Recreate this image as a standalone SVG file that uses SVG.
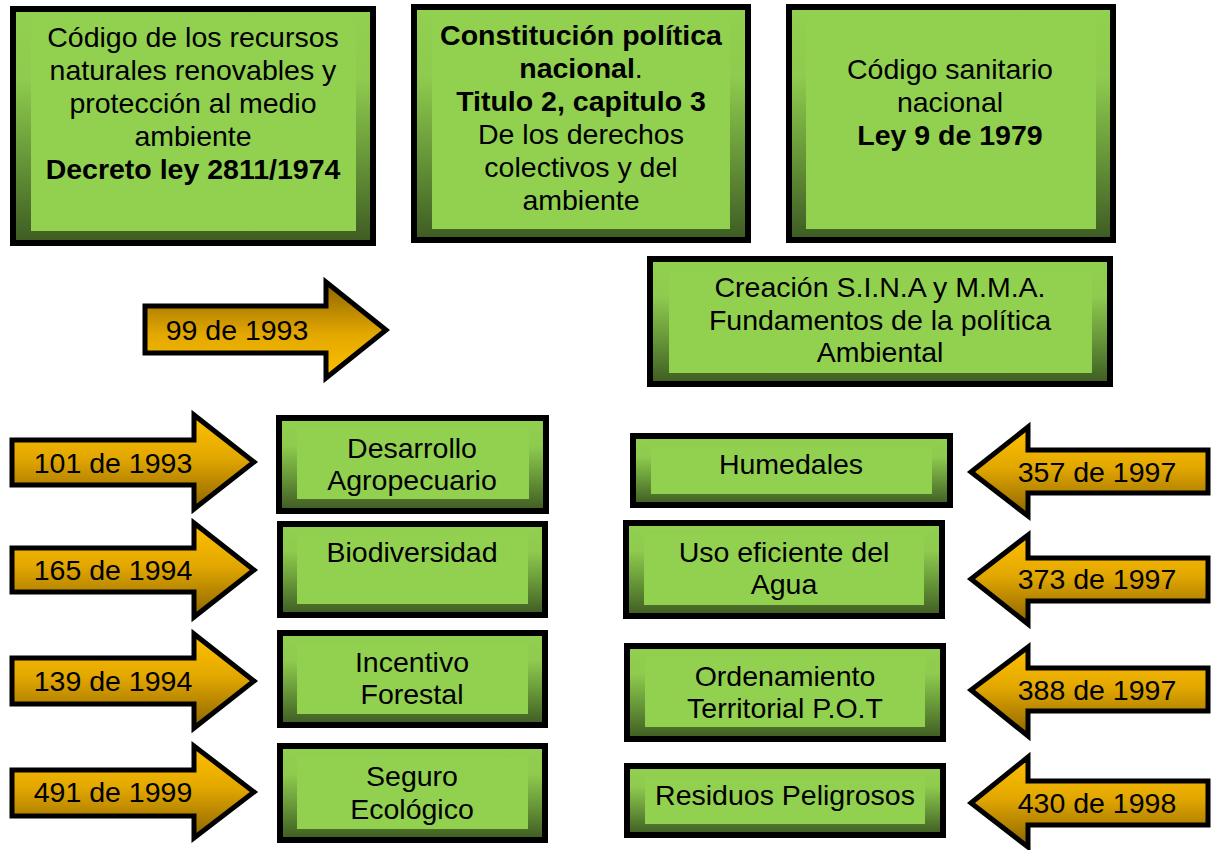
<svg xmlns="http://www.w3.org/2000/svg" width="1221" height="850" viewBox="0 0 1221 850">
<defs>
<linearGradient id="gFrame" x1="0" y1="0" x2="0" y2="1">
<stop offset="0" stop-color="#92d050"/>
<stop offset="0.3" stop-color="#8ecb4e"/>
<stop offset="0.65" stop-color="#669538"/>
<stop offset="1" stop-color="#3e5b22"/>
</linearGradient>
<linearGradient id="gArrowDown" x1="0" y1="0" x2="0" y2="1">
<stop offset="0" stop-color="#ffc000"/>
<stop offset="0.45" stop-color="#e3a800"/>
<stop offset="1" stop-color="#8c6400"/>
</linearGradient>
<linearGradient id="gArrowUp" x1="0" y1="1" x2="0" y2="0">
<stop offset="0" stop-color="#ffc000"/>
<stop offset="0.45" stop-color="#e3a800"/>
<stop offset="1" stop-color="#8c6400"/>
</linearGradient>
</defs>
<style>
.frame{fill:url(#gFrame);stroke:#000;stroke-width:6}
.inner{fill:#92d050}
.arrow{fill:url(#gArrowDown);stroke:#000;stroke-width:5;stroke-linejoin:miter}
.arrowR{fill:url(#gArrowUp);stroke:#000;stroke-width:5;stroke-linejoin:miter}
text{font-family:"Liberation Sans",Arial,sans-serif;font-size:28.5px;fill:#000;text-anchor:middle}
.b{font-weight:bold}
</style>
<rect width="1221" height="850" fill="#fff"/>

<g id="connectors">
<g id="a99"><polygon class="arrowR" points="145,306 326,306 326,282 386,330 326,378 326,353 145,353"/><text x="237" y="340">99 de 1993</text></g>
<g id="a101"><polygon class="arrow" points="12,440 194,440 194,415 254,462 194,509 194,485 12,485"/><text x="113" y="473">101 de 1993</text></g>
<g id="a165"><polygon class="arrow" points="12,548 194,548 194,523 254,570 194,617 194,592 12,592"/><text x="113" y="580">165 de 1994</text></g>
<g id="a139"><polygon class="arrow" points="12,658 194,658 194,634 254,681 194,728 194,704 12,704"/><text x="113" y="691">139 de 1994</text></g>
<g id="a491"><polygon class="arrow" points="12,770 194,770 194,746 254,792 194,838 194,816 12,816"/><text x="113" y="802">491 de 1999</text></g>
<g id="a357"><polygon class="arrow" points="1208,450 1028,450 1028,427 971,472 1028,516 1028,493 1208,493"/><text x="1097" y="482">357 de 1997</text></g>
<g id="a373"><polygon class="arrow" points="1208,558 1028,558 1028,535 971,579 1028,624 1028,601 1208,601"/><text x="1097" y="589">373 de 1997</text></g>
<g id="a388"><polygon class="arrow" points="1208,668 1028,668 1028,647 971,690 1028,736 1028,711 1208,711"/><text x="1097" y="700">388 de 1997</text></g>
<g id="a430"><polygon class="arrow" points="1208,781 1028,781 1028,757 971,803 1028,847 1028,825 1208,825"/><text x="1097" y="813">430 de 1998</text></g>
</g>

<g id="n-codigo-recursos">
<rect class="frame" x="13" y="9" width="360" height="234"/>
<rect class="inner" x="31" y="20" width="325" height="211"/>
<text x="193" y="47">Código de los recursos</text>
<text x="193" y="80">naturales renovables y</text>
<text x="193" y="113">protección al medio</text>
<text x="193" y="146">ambiente</text>
<text x="193" y="179" class="b">Decreto ley 2811/1974</text>
</g>

<g id="n-constitucion">
<rect class="frame" x="414" y="7" width="334" height="233"/>
<rect class="inner" x="432" y="18" width="298" height="211"/>
<text x="581" y="45" class="b">Constitución política</text>
<text x="581" y="78"><tspan class="b">nacional</tspan>.</text>
<text x="581" y="111" class="b">Titulo 2, capitulo 3</text>
<text x="581" y="144">De los derechos</text>
<text x="581" y="177">colectivos y del</text>
<text x="581" y="210">ambiente</text>
</g>

<g id="n-codigo-sanitario">
<rect class="frame" x="789" y="7" width="324" height="233"/>
<rect class="inner" x="806" y="18" width="290" height="211"/>
<text x="950" y="79">Código sanitario</text>
<text x="950" y="112">nacional</text>
<text x="950" y="145" class="b">Ley 9 de 1979</text>
</g>

<g id="n-sina">
<rect class="frame" x="650" y="259" width="460" height="125"/>
<rect class="inner" x="669" y="271" width="423" height="102"/>
<text x="880" y="297">Creación S.I.N.A y M.M.A.</text>
<text x="880" y="330">Fundamentos de la política</text>
<text x="880" y="362">Ambiental</text>
</g>

<g id="n-desarrollo">
<rect class="frame" x="279" y="418" width="267" height="93"/>
<rect class="inner" x="297" y="429" width="232" height="70"/>
<text x="412" y="458">Desarrollo</text>
<text x="412" y="490">Agropecuario</text>
</g>

<g id="n-biodiversidad">
<rect class="frame" x="280" y="524" width="265" height="91"/>
<rect class="inner" x="297" y="535" width="231" height="69"/>
<text x="412" y="562">Biodiversidad</text>
</g>

<g id="n-incentivo">
<rect class="frame" x="280" y="633" width="265" height="92"/>
<rect class="inner" x="297" y="644" width="231" height="70"/>
<text x="412" y="672">Incentivo</text>
<text x="412" y="704">Forestal</text>
</g>

<g id="n-seguro">
<rect class="frame" x="280" y="746" width="265" height="94"/>
<rect class="inner" x="297" y="757" width="231" height="72"/>
<text x="412" y="786">Seguro</text>
<text x="412" y="819">Ecológico</text>
</g>

<g id="n-humedales">
<rect class="frame" x="633" y="436" width="317" height="69"/>
<rect class="inner" x="651" y="447" width="281" height="47"/>
<text x="791" y="474">Humedales</text>
</g>

<g id="n-agua">
<rect class="frame" x="626" y="523" width="316" height="93"/>
<rect class="inner" x="644" y="534" width="280" height="71"/>
<text x="784" y="562">Uso eficiente del</text>
<text x="784" y="594">Agua</text>
</g>

<g id="n-pot">
<rect class="frame" x="627" y="646" width="316" height="93"/>
<rect class="inner" x="645" y="657" width="280" height="70"/>
<text x="785" y="686">Ordenamiento</text>
<text x="785" y="718">Territorial P.O.T</text>
</g>

<g id="n-residuos">
<rect class="frame" x="627" y="766" width="316" height="69"/>
<rect class="inner" x="645" y="777" width="280" height="47"/>
<text x="785" y="805">Residuos Peligrosos</text>
</g>
</svg>
